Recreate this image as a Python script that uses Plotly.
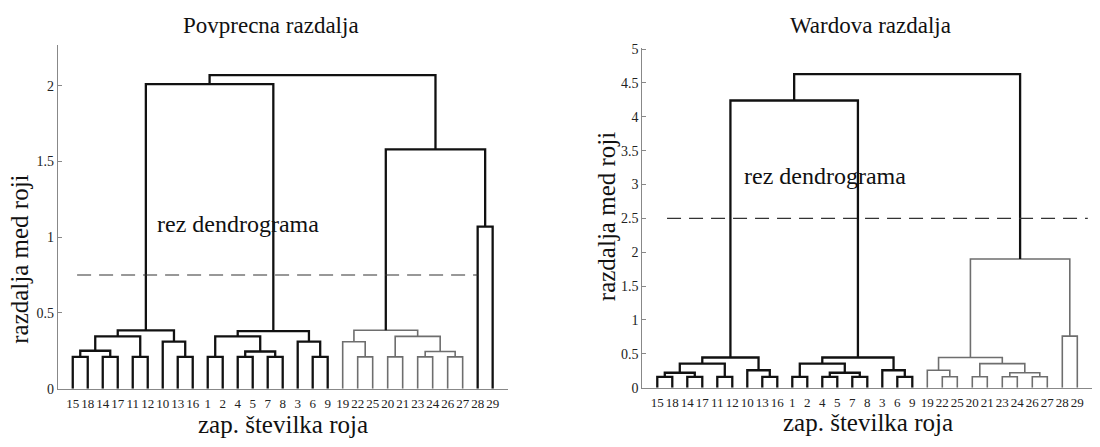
import plotly.graph_objects as go

# Leaf (swarm) labels in the order they appear along the x axis
leaf_order = [15, 18, 14, 17, 11, 12, 10, 13, 16, 1, 2, 4, 5, 7, 8, 3, 6, 9,
              19, 22, 25, 20, 21, 23, 24, 26, 27, 28, 29]

# Merge steps: (left node, right node, distance). Leaves are 1..29,
# each merge creates node 30, 31, ... in order.
merge_left = [15, 14, 30, 11, 32, 13, 10, 34, 1, 4, 7, 39, 38, 6, 3, 42,
              22, 19, 20, 23, 26, 49, 48, 47, 28, 53, 37, 56]
merge_right = [18, 17, 31, 12, 33, 16, 35, 36, 2, 5, 8, 40, 41, 9, 43, 44,
               25, 46, 21, 24, 27, 50, 51, 52, 29, 54, 45, 55]

# Average-linkage distances
avg_height = [0.21, 0.21, 0.25, 0.21, 0.345, 0.21, 0.31, 0.385,
              0.21, 0.21, 0.21, 0.245, 0.345, 0.21, 0.31, 0.38,
              0.21, 0.31, 0.21, 0.21, 0.21, 0.245, 0.345, 0.385,
              1.07, 1.58, 2.01, 2.07]

# Ward distances
ward_height = [0.16, 0.16, 0.22, 0.16, 0.355, 0.16, 0.257, 0.445,
               0.16, 0.16, 0.16, 0.22, 0.355, 0.16, 0.257, 0.445,
               0.16, 0.257, 0.16, 0.16, 0.16, 0.22, 0.355, 0.445,
               0.76, 1.9, 4.24, 4.63]

# Merges drawn in grey (the rest are black)
avg_grey = {46, 47, 48, 49, 50, 51, 52, 53}
ward_grey = {46, 47, 48, 49, 50, 51, 52, 53, 54, 55}

avg_cut = 0.75
ward_cut = 2.5

FONT = "Liberation Serif"
N = len(leaf_order)


def dendro_segments(heights, grey):
    pos = {leaf: i + 1 for i, leaf in enumerate(leaf_order)}
    hgt = {leaf: 0.0 for leaf in leaf_order}
    segs = {"black": ([], []), "grey": ([], [])}
    for i, (a, b, h) in enumerate(zip(merge_left, merge_right, heights)):
        node = N + 1 + i
        xa, xb = pos[a], pos[b]
        key = "grey" if node in grey else "black"
        xs, ys = segs[key]
        xs += [xa, xa, xb, xb, None]
        ys += [hgt[a], h, h, hgt[b], None]
        pos[node] = (xa + xb) / 2
        hgt[node] = h
    return segs


fig = go.Figure()

panels = [
    ("x", "y", avg_height, avg_grey, avg_cut, (1.29, 28.0)),
    ("x2", "y2", ward_height, ward_grey, ward_cut, (1.65, 29.7)),
]
for xa, ya, heights, grey, cut, span in panels:
    segs = dendro_segments(heights, grey)
    for key, color, w in [("grey", "#6e6e6e", 1.6), ("black", "#111111", 2.3)]:
        xs, ys = segs[key]
        fig.add_trace(go.Scatter(x=xs, y=ys, mode="lines", xaxis=xa, yaxis=ya,
                                 line=dict(color=color, width=w),
                                 hoverinfo="skip", showlegend=False))
    fig.add_trace(go.Scatter(x=list(span), y=[cut, cut], mode="lines",
                             xaxis=xa, yaxis=ya,
                             line=dict(color="#333333", width=1.2, dash="14px,8px"),
                             hoverinfo="skip", showlegend=False))

tick_font = dict(family=FONT, size=13, color="#222222")
xcommon = dict(range=[0, 30], tickmode="array",
               tickvals=list(range(1, N + 1)),
               ticktext=[str(v) for v in leaf_order],
               showline=True, linecolor="#888888", linewidth=1,
               ticks="", showgrid=False, zeroline=False,
               tickfont=tick_font, tickangle=0, ticklabelstandoff=3)
ycommon = dict(showline=True, linecolor="#888888", linewidth=1,
               ticks="inside", ticklen=4, tickcolor="#888888",
               showgrid=False, zeroline=False,
               tickfont=dict(family=FONT, size=14, color="#222222"))

fig.update_layout(
    width=1100, height=447,
    margin=dict(l=0, r=0, t=0, b=0),
    paper_bgcolor="white", plot_bgcolor="white",
    xaxis=dict(domain=[0.0525, 0.4615], anchor="y", **xcommon),
    yaxis=dict(domain=[0.1163, 0.9105], anchor="x", range=[0, 2.27],
               tickvals=[0, 0.5, 1, 1.5, 2], ticktext=["0", "0.5", "1", "1.5", "2"],
               **ycommon),
    xaxis2=dict(domain=[0.5839, 0.993], anchor="y2", **xcommon),
    yaxis2=dict(domain=[0.1186, 0.9038], anchor="x2", range=[0, 5.02],
                tickvals=[0, 0.5, 1, 1.5, 2, 2.5, 3, 3.5, 4, 4.5, 5],
                ticktext=["0", "0.5", "1", "1.5", "2", "2.5", "3", "3.5", "4", "4.5", "5"],
                **ycommon),
)

title_font = dict(family=FONT, size=23, color="#111111")
label_font = dict(family=FONT, size=25, color="#111111")
text_font = dict(family=FONT, size=24, color="#111111")
ann = [
    dict(text="Povprecna razdalja", x=271, y=20, font=title_font),
    dict(text="Wardova razdalja", x=870, y=20, font=title_font),
    dict(text="zap. številka roja", x=283, y=432, font=label_font),
    dict(text="zap. številka roja", x=868, y=430, font=label_font),
    dict(text="razdalja med roji", x=20, y=262, font=label_font, textangle=-90),
    dict(text="razdalja med roji", x=606, y=218, font=label_font, textangle=-90),
]
for a in ann:
    fig.add_annotation(xref="paper", yref="paper", x=a["x"] / 1100, y=1 - a["y"] / 447,
                       text=a["text"], showarrow=False, font=a["font"],
                       textangle=a.get("textangle", 0),
                       xanchor="center", yanchor="middle")

fig.add_annotation(xref="x", yref="y", x=12.05, y=1.087, text="rez dendrograma",
                   showarrow=False, font=text_font)
fig.add_annotation(xref="x2", yref="y2", x=12.18, y=3.13, text="rez dendrograma",
                   showarrow=False, font=text_font)

fig.write_html("out.html")
